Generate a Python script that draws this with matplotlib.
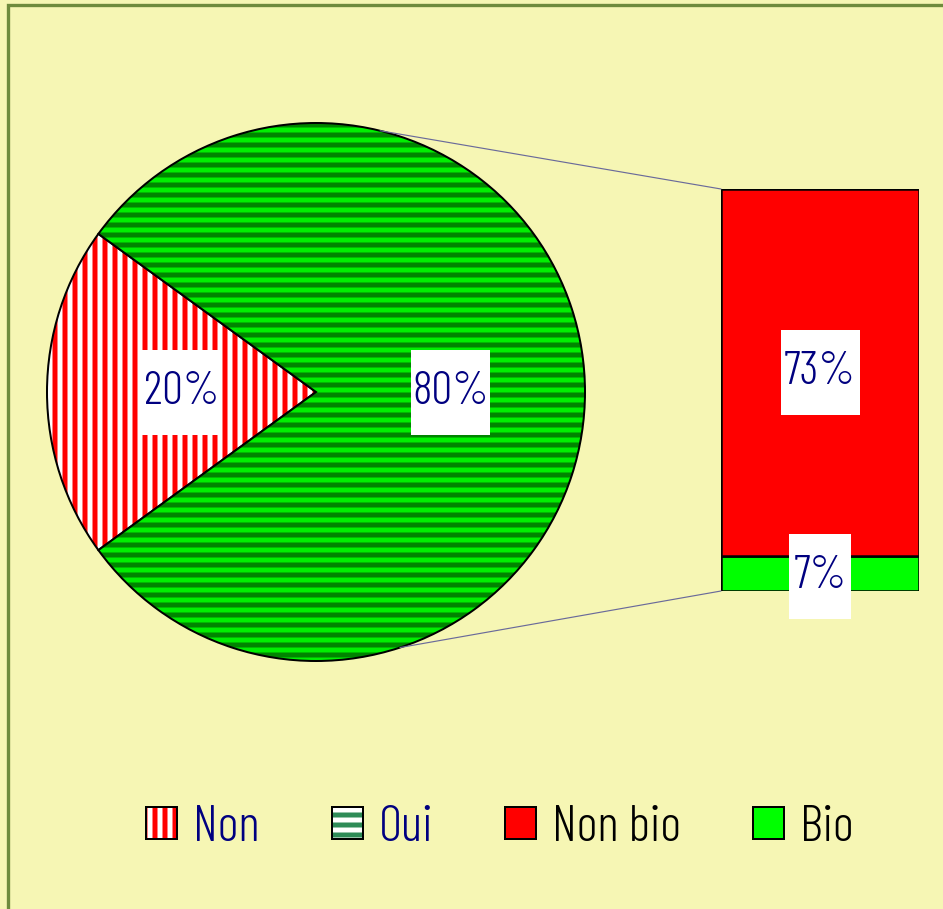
import numpy as np
import matplotlib
matplotlib.use("Agg")
import matplotlib.pyplot as plt
from matplotlib.patches import Rectangle, Patch, ConnectionPatch

# ---- data ----
pie_labels = ["Non", "Oui"]
pie_values = [20, 80]
bar_labels = ["Bio", "Non bio"]
bar_values = [7, 73]
legend_labels = ["Non", "Oui", "Non bio", "Bio"]

FONT = ["Barlow Condensed", "DejaVu Sans"]
WEIGHT = 300

DPI = 120
W, H = 943, 909
plt.rcParams["hatch.linewidth"] = 3.0

BG = "#F6F6B4"
NAVY = "#000080"

fig = plt.figure(figsize=(W / DPI, H / DPI), dpi=DPI, facecolor=BG)

# frame (only top/left visible)
fig.patches.append(Rectangle((8 / W, -0.1), 1.2, 1.1 - 5 / H, transform=fig.transFigure,
                             fill=False, edgecolor="#6E8B3D", linewidth=2.0))

def px_axes(x0, y0, x1, y1):
    return fig.add_axes([x0 / W, 1 - y1 / H, (x1 - x0) / W, (y1 - y0) / H])

# ---- pie ----
axp = px_axes(47, 123, 585, 661)
axp.set_facecolor("none")
wedges, _ = axp.pie(pie_values, startangle=144, counterclock=True, radius=1,
                    wedgeprops=dict(edgecolor="black", linewidth=1.2))
wedges[0].set_facecolor("white")
wedges[0].set_hatch("||")
wedges[0]._hatch_color = matplotlib.colors.to_rgba("#FF0000")
wedges[1].set_facecolor("#00F000")
wedges[1].set_hatch("--")
wedges[1]._hatch_color = matplotlib.colors.to_rgba("#008400")
axp.set_xlim(-1, 1)
axp.set_ylim(-1, 1)
axp.set_aspect("auto")
axp.axis("off")

LABEL_FS = 28

# pie labels
cum = 0
for v in pie_values:
    mid = np.deg2rad(144 + (cum + v / 2) * 3.6)
    cum += v
    x, y = 0.5 * np.cos(mid), 0.5 * np.sin(mid)
    axp.add_patch(Rectangle((x - 79 / 269 / 2, y - 85 / 269 / 2), 79 / 269, 85 / 269,
                            facecolor="white", edgecolor="none", zorder=3))
    axp.text(x, y, f"{v}%", ha="center", va="center", color=NAVY, fontsize=LABEL_FS,
             family=FONT, weight=WEIGHT, zorder=4)

# ---- bar ----
axb = px_axes(721, 189, 919, 591)
axb.set_facecolor("none")
bottom = 0
bar_colors = ["#00FF00", "#FF0000"]
for lab, v, c in zip(bar_labels, bar_values, bar_colors):
    axb.bar(0, v, bottom=bottom, width=1, color=c, edgecolor="black", linewidth=1.5)
    bottom += v
axb.set_xlim(-0.5, 0.5)
axb.set_ylim(0, sum(bar_values))
axb.axis("off")

total = sum(bar_values)
bottom = 0
box_w = {"7%": 62, "73%": 79}
for v in bar_values:
    s = f"{v}%"
    yc = bottom + v / 2
    bottom += v
    bw = box_w.get(s, 79) / 198
    bh = 85 / 402 * total
    yc_draw = yc if v > 20 else yc - 3 / 402 * total
    axb.add_patch(Rectangle((-bw / 2, yc_draw - bh / 2), bw, bh, facecolor="white",
                            edgecolor="none", zorder=3, clip_on=False))
    axb.text(0, yc_draw, s, ha="center", va="center", color=NAVY, fontsize=LABEL_FS,
             family=FONT, weight=WEIGHT, zorder=4, clip_on=False)

# ---- connectors ----
for a_deg, yb in [(76.2, total), (-71.8, 0)]:
    a = np.deg2rad(a_deg)
    con = ConnectionPatch(xyA=(np.cos(a), np.sin(a)), coordsA=axp.transData,
                          xyB=(-0.5, yb), coordsB=axb.transData,
                          color="#6A6A9A", linewidth=0.7)
    fig.add_artist(con)

# ---- legend ----
h_non = Patch(facecolor="white", edgecolor="black", hatch="||", linewidth=1.2)
h_non._hatch_color = matplotlib.colors.to_rgba("#FF0000")
h_oui = Patch(facecolor="white", edgecolor="black", hatch="--", linewidth=1.2)
h_oui._hatch_color = matplotlib.colors.to_rgba("#2E8B57")
h_nb = Patch(facecolor="#FF0000", edgecolor="black", linewidth=1.2)
h_b = Patch(facecolor="#00FF00", edgecolor="black", linewidth=1.2)
LEG_FS = 30.5
leg_px = LEG_FS * DPI / 72
leg = fig.legend([h_non, h_oui, h_nb, h_b], legend_labels, ncol=4, loc="center",
                 bbox_to_anchor=(500 / W, 1 - 828 / H), frameon=False,
                 prop=dict(family=FONT, size=LEG_FS, weight=WEIGHT),
                 handlelength=31 / leg_px, handleheight=31 / leg_px,
                 handletextpad=16 / leg_px, columnspacing=72 / leg_px)
for t, c in zip(leg.get_texts(), [NAVY, NAVY, "black", "black"]):
    t.set_color(c)

fig.savefig("out.png", dpi=DPI, facecolor=BG)
